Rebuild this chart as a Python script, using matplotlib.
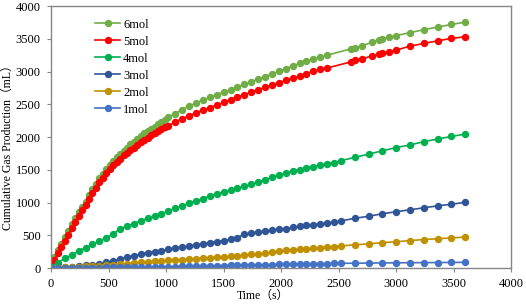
import matplotlib
matplotlib.use("Agg")
import matplotlib.pyplot as plt

plt.rcParams['font.family'] = ['Liberation Serif', 'Noto Sans CJK SC']

# sampling times (s)
t_fast = [0, 30, 60, 90, 120, 150, 180, 210, 240, 270, 300, 330, 360, 390, 420, 450,
          480, 510, 540, 570, 600, 630, 660, 690, 720, 750, 780, 810, 840, 870, 900,
          930, 960, 990, 1020, 1080, 1140, 1200, 1260, 1320, 1380, 1440, 1500, 1560,
          1620, 1680, 1740, 1800, 1860, 1920, 1980, 2040, 2100, 2160, 2220, 2280, 2340,
          2400, 2610, 2640, 2700, 2790, 2850, 2880, 2940, 3000, 3120, 3240, 3360, 3480, 3600]
t_slow = [0, 60, 120, 180, 240, 300, 360, 420, 480, 540, 600, 660, 720, 780, 840, 900,
          960, 1020, 1080, 1140, 1200, 1260, 1320, 1380, 1440, 1500, 1560, 1620, 1680,
          1740, 1800, 1860, 1920, 1980, 2040, 2100, 2160, 2220, 2280, 2340, 2400, 2460,
          2520, 2640, 2760, 2880, 3000, 3120, 3240, 3360, 3480, 3600]

# cumulative gas production (mL)
gas_6mol = [70, 170, 270, 370, 470, 570, 670, 760, 850, 930, 1010, 1110, 1210, 1290, 1370,
            1440, 1510, 1570, 1630, 1690, 1740, 1790, 1840, 1890, 1930, 1975, 2015, 2055,
            2090, 2125, 2160, 2195, 2230, 2265, 2300, 2360, 2420, 2470, 2520, 2565, 2605,
            2645, 2685, 2725, 2765, 2805, 2845, 2885, 2925, 2965, 3005, 3045, 3085, 3125,
            3160, 3190, 3220, 3250, 3350, 3360, 3390, 3450, 3490, 3505, 3525, 3550, 3595,
            3640, 3680, 3720, 3756]
gas_5mol = [40, 130, 225, 320, 415, 510, 605, 700, 790, 880, 960, 1050, 1140, 1230, 1310,
            1380, 1450, 1510, 1570, 1620, 1670, 1720, 1760, 1800, 1840, 1880, 1920, 1955,
            1990, 2025, 2060, 2090, 2120, 2150, 2175, 2230, 2280, 2325, 2370, 2410, 2450,
            2490, 2530, 2570, 2610, 2650, 2685, 2720, 2760, 2795, 2830, 2865, 2900, 2930,
            2970, 3005, 3033, 3055, 3150, 3176, 3196, 3237, 3267, 3290, 3303, 3328, 3389,
            3430, 3470, 3507, 3532]
gas_4mol = [20, 80, 150, 200, 260, 310, 360, 410, 460, 520, 600, 640, 680, 720, 760, 790,
            830, 870, 910, 950, 990, 1030, 1060, 1100, 1130, 1160, 1190, 1220, 1250, 1280,
            1310, 1350, 1390, 1420, 1450, 1480, 1500, 1530, 1550, 1570, 1590, 1610, 1640,
            1690, 1740, 1790, 1840, 1880, 1930, 1970, 2010, 2046]
gas_3mol = [0, 5, 10, 20, 30, 40, 50, 60, 85, 105, 135, 165, 190, 215, 235, 250, 262, 295,
            305, 320, 335, 355, 370, 385, 405, 420, 440, 460, 520, 535, 550, 565, 580, 590,
            600, 620, 635, 650, 665, 680, 690, 700, 720, 760, 790, 830, 860, 890, 920, 950,
            975, 1003]
gas_2mol = [0, 5, 10, 15, 20, 25, 30, 35, 40, 45, 55, 65, 75, 85, 95, 102, 110, 117, 122,
            130, 138, 145, 152, 158, 165, 172, 180, 188, 200, 208, 218, 228, 238, 258, 270,
            278, 285, 292, 300, 310, 318, 328, 338, 355, 370, 388, 402, 420, 435, 448, 460,
            473]
gas_1mol = [0, 2, 3, 4, 5, 6, 7, 8, 10, 12, 13, 14, 15, 16, 17, 18, 19, 20, 21, 24, 27,
            29, 31, 33, 36, 38, 40, 42, 44, 46, 48, 51, 54, 57, 60, 62, 63, 65, 66, 68, 69,
            70, 72, 74, 76, 78, 80, 82, 83, 84, 86, 87]

labels = ['6mol', '5mol', '4mol', '3mol', '2mol', '1mol']
colors = ['#70AD47', '#FF0000', '#00B050', '#2F5597', '#BF9000', '#4472C4']

fig = plt.figure(figsize=(5.26, 3.06), dpi=100)
ax = fig.add_axes([0.097, 0.124, 0.875, 0.856])

series = [(t_fast, gas_6mol), (t_fast, gas_5mol), (t_slow, gas_4mol),
          (t_slow, gas_3mol), (t_slow, gas_2mol), (t_slow, gas_1mol)]
for (tt, yy), lab, col in zip(series, labels, colors):
    ax.plot(tt, yy, color=col, marker='o', markersize=4.3, linewidth=1.2, label=lab)

ax.set_xlim(0, 4000)
ax.set_ylim(0, 4000)
ax.set_xticks(range(0, 4001, 500))
ax.set_yticks(range(0, 4001, 500))
for s in ax.spines.values():
    s.set_color('#868686')
    s.set_linewidth(1.0)
ax.tick_params(direction='out', length=3, color='#868686', labelsize=9, pad=4.5)

ax.set_xlabel('Time（s）', fontsize=8.5)
ax.set_ylabel('Cumulative Gas Production（mL）', fontsize=8.5)
ax.xaxis.set_label_coords(0.46, -0.083)
ax.yaxis.set_label_coords(-0.081, 0.47)

ax.legend(loc='upper left', bbox_to_anchor=(0.0957, 0.952), frameon=False,
          fontsize=9, borderpad=0, borderaxespad=0, handlelength=2.0,
          handletextpad=0.25, labelspacing=0.4)

fig.savefig('out.png', dpi=100)
